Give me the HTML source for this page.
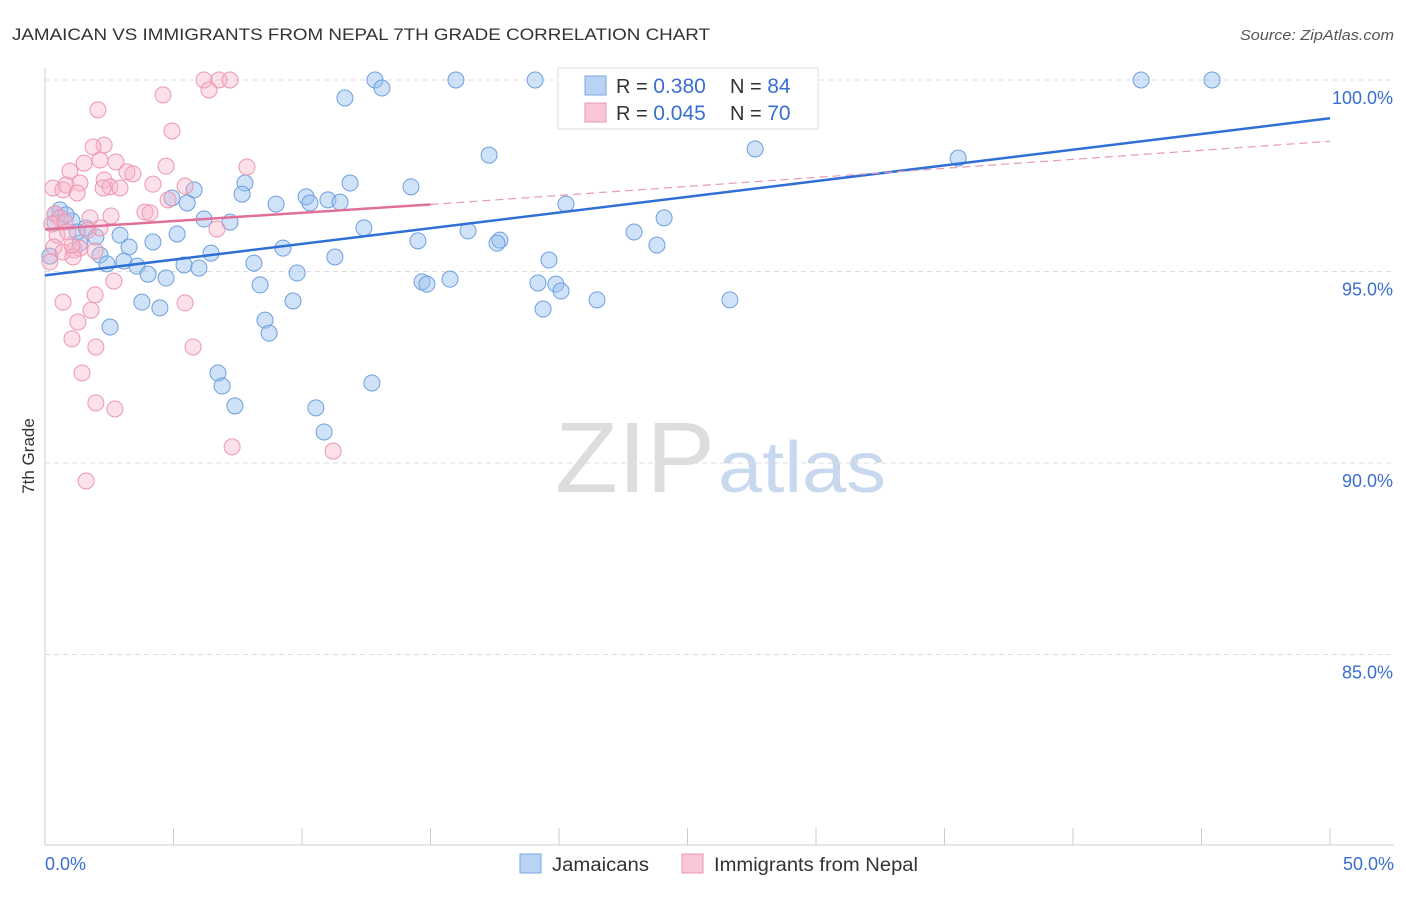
<!DOCTYPE html>
<html><head><meta charset="utf-8"><style>
body{margin:0;background:#fff;font-family:"Liberation Sans",sans-serif;}
svg text{font-family:"Liberation Sans",sans-serif;}
</style></head><body>
<svg id="chart" width="1406" height="892" xmlns="http://www.w3.org/2000/svg">
<text x="12" y="40" font-size="17" fill="#333" textLength="698" lengthAdjust="spacingAndGlyphs">JAMAICAN VS IMMIGRANTS FROM NEPAL 7TH GRADE CORRELATION CHART</text>
<text x="1240" y="40" font-size="15" fill="#555" textLength="154" lengthAdjust="spacingAndGlyphs" font-style="italic">Source: ZipAtlas.com</text>
<text x="555" y="492" font-size="100" fill="#ddd" font-family="Liberation Serif" textLength="160" lengthAdjust="spacingAndGlyphs">ZIP</text>
<text x="718" y="492" font-size="72" fill="#c8d8ee" textLength="168" lengthAdjust="spacingAndGlyphs">atlas</text>
<g id="grid"></g>
<g id="axes"></g>
<g id="marks"></g>
<text x="34" y="456" font-size="17" fill="#333" text-anchor="middle" transform="rotate(-90 34 456)">7th Grade</text>
<g>
<rect x="558" y="68" width="260" height="61" fill="#fff" stroke="#ddd"/>
<rect x="585" y="76" width="21" height="19" fill="#b9d3f5" stroke="#7aa7e0"/>
<rect x="585" y="103" width="21" height="19" fill="#f9c6d5" stroke="#eb97b1"/>
<text x="616" y="93" font-size="20" fill="#333">R = <tspan fill="#3a6fd0" font-size="21">0.380</tspan></text>
<text x="730" y="93" font-size="20" fill="#333">N = <tspan fill="#3a6fd0" font-size="21">84</tspan></text>
<text x="616" y="120" font-size="20" fill="#333">R = <tspan fill="#3a6fd0" font-size="21">0.045</tspan></text>
<text x="730" y="120" font-size="20" fill="#333">N = <tspan fill="#3a6fd0" font-size="21">70</tspan></text>
</g>
<g>
<rect x="520" y="854" width="21" height="19" fill="#b9d3f5" stroke="#7aa7e0"/>
<text x="552" y="871" font-size="19" fill="#333" textLength="97" lengthAdjust="spacingAndGlyphs">Jamaicans</text>
<rect x="682" y="854" width="21" height="19" fill="#f9c6d5" stroke="#eb97b1"/>
<text x="714" y="871" font-size="19" fill="#333" textLength="204" lengthAdjust="spacingAndGlyphs">Immigrants from Nepal</text>
</g>
</svg>
<script>
const yTicks=[100,95,90,85];
const yTickLabels=["100.0%","95.0%","90.0%","85.0%"];
const xTickLabels=["0.0%","50.0%"];
const bluePx=[[375,80],[456,80],[535,80],[727,80],[1141,80],[1212,80],[382,88],[345,98],[489,155],[755,149],[958,158],[350,183],[411,187],[245,183],[194,190],[242,194],[172,198],[187,203],[276,204],[306,197],[310,203],[328,200],[340,202],[566,204],[664,218],[204,219],[230,222],[364,228],[468,231],[634,232],[418,241],[500,240],[497,243],[657,245],[177,234],[153,242],[120,235],[96,237],[86,228],[60,210],[55,223],[72,221],[50,256],[129,247],[100,255],[107,264],[124,261],[137,266],[148,274],[166,278],[184,265],[199,268],[211,253],[254,263],[283,248],[297,273],[335,257],[549,260],[260,285],[422,282],[427,284],[450,279],[538,283],[556,284],[561,291],[597,300],[730,300],[293,301],[142,302],[160,308],[110,327],[265,320],[269,333],[218,373],[222,386],[372,383],[235,406],[316,408],[324,432],[543,309],[55,214],[66,215],[80,243],[77,232]];
const pinkPx=[[204,80],[219,80],[230,80],[209,90],[163,95],[98,110],[172,131],[104,145],[93,147],[84,163],[100,160],[116,162],[70,171],[127,172],[166,166],[247,167],[53,188],[66,185],[80,183],[104,180],[110,187],[120,188],[133,174],[153,184],[185,186],[77,193],[63,190],[168,200],[55,214],[60,218],[52,224],[65,222],[145,212],[150,213],[111,216],[90,218],[100,228],[88,230],[217,229],[57,235],[54,247],[63,252],[50,262],[74,250],[80,248],[73,257],[95,251],[114,281],[95,295],[63,302],[91,310],[185,303],[78,322],[72,339],[96,347],[193,347],[82,373],[96,403],[115,409],[232,447],[333,451],[86,481],[103,188],[72,245],[68,232]];
const toX=px=>(px-45)/1285*50, toY=py=>100-(py-80)/38.3;
const blueX=bluePx.map(p=>+toX(p[0]).toFixed(2)), blueY=bluePx.map(p=>+toY(p[1]).toFixed(2));
const pinkX=pinkPx.map(p=>+toX(p[0]).toFixed(2)), pinkY=pinkPx.map(p=>+toY(p[1]).toFixed(2));
const blueTrend=[[0,94.9],[50,99.0]];
const pinkTrend=[[0,96.1],[15,96.75],[50,98.4]];
const sx=v=>45+v/50*1285, sy=v=>80+(100-v)*38.3;
const NS="http://www.w3.org/2000/svg";
function mk(t,a,parent){const e=document.createElementNS(NS,t);for(const k in a)e.setAttribute(k,a[k]);document.getElementById(parent).appendChild(e);return e;}
yTicks.forEach((t,i)=>{
 const l=mk('line',{x1:45,x2:1394,y1:sy(t),y2:sy(t),stroke:'#ddd','stroke-dasharray':'5,4'},'grid');
 
 
 const tx=mk('text',{x:1393,y:sy(t)+24,'font-size':18,fill:'#3a6fd0','text-anchor':'end'},'axes');
 tx.textContent=yTickLabels[i];
 
 
});
const ax=mk('line',{x1:45,x2:1394,y1:845,y2:845,stroke:'#ccc'},'axes');


const ay=mk('line',{x1:45,x2:45,y1:68,y2:845,stroke:'#ccc'},'axes');


for(let i=0;i<=10;i++){const x=sx(i*5);const t=mk('line',{x1:x,x2:x,y1:828,y2:845,stroke:'#ccc'},'axes');
 
 }
[[0,45,'start'],[1,1394,'end']].forEach(([i,x,a])=>{const t=mk('text',{x:x,y:870,'font-size':18,fill:'#3a6fd0','text-anchor':a},'axes');t.textContent=xTickLabels[i];
 
 });
blueX.forEach((x,i)=>{const c=mk('circle',{cx:sx(x),cy:sy(blueY[i]),r:8,fill:'rgba(150,190,240,0.45)',stroke:'#6d9fdf','stroke-width':1},'marks');
 
 });
pinkX.forEach((x,i)=>{const c=mk('circle',{cx:sx(x),cy:sy(pinkY[i]),r:8,fill:'rgba(248,180,200,0.4)',stroke:'#ec96b0','stroke-width':1},'marks');
 
 });
const bl=mk('line',{x1:sx(blueTrend[0][0]),y1:sy(blueTrend[0][1]),x2:sx(blueTrend[1][0]),y2:sy(blueTrend[1][1]),stroke:'#2f6fd6','stroke-width':2.5},'marks');


const pl=mk('line',{x1:sx(pinkTrend[0][0]),y1:sy(pinkTrend[0][1]),x2:sx(pinkTrend[1][0]),y2:sy(pinkTrend[1][1]),stroke:'#e0709a','stroke-width':2.5},'marks');


const pd=mk('line',{x1:sx(pinkTrend[1][0]),y1:sy(pinkTrend[1][1]),x2:sx(pinkTrend[2][0]),y2:sy(pinkTrend[2][1]),stroke:'#e89ab5','stroke-width':1.2,'stroke-dasharray':'8,5'},'marks');


</script>
</body></html>
